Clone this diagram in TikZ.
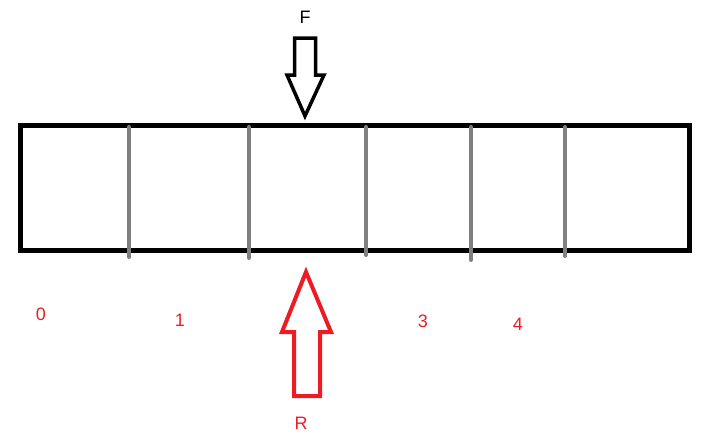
\documentclass[tikz,border=0pt]{standalone}
\usepackage{fontspec}
\setmainfont{Liberation Sans}
\definecolor{pred}{RGB}{237,28,36}
\definecolor{pgray}{RGB}{128,128,128}
\begin{document}
\begin{tikzpicture}[x=1pt,y=-1pt,
  beam/.style={draw=black,line width=5pt},
  divider/.style={draw=pgray,line width=4pt,line cap=round},
  farrow/.style={draw=black,line width=3.5pt,line join=miter},
  rarrow/.style={draw=pred,line width=4pt,line join=miter},
  lbl/.style={text=pred,font=\fontsize{18}{21}\selectfont,inner sep=0pt},
  flbl/.style={text=black,font=\fontsize{18}{21}\selectfont,inner sep=0pt}]
\useasboundingbox (0,0) rectangle (724,439);
\draw[beam] (20.5,125.5) rectangle (689.5,250.5);
\foreach \x/\t/\b in {129/127/257,249/127/258,366/127/255,471/127/260,565/127/256}
  \draw[divider] (\x,\t) -- (\x,\b);
% F arrow
\draw[farrow] (294.5,38) -- (315.5,38) -- (315.5,75) -- (324,75) -- (305,116) -- (287,75) -- (294.5,75) -- cycle;
\node[flbl] (F) at (305,17) {F};
% R arrow
\draw[rarrow] (306,272) -- (331,332) -- (320,332) -- (320,396) -- (294,396) -- (294,332) -- (282,332) -- cycle;
\node[flbl,text=pred] (R) at (301,423) {R};
\node[lbl] (l0) at (41,314) {0};
\node[lbl] (l1) at (180,320) {1};
\node[lbl] (l3) at (423,321) {3};
\node[lbl] (l4) at (518,324) {4};
\end{tikzpicture}
\end{document}
